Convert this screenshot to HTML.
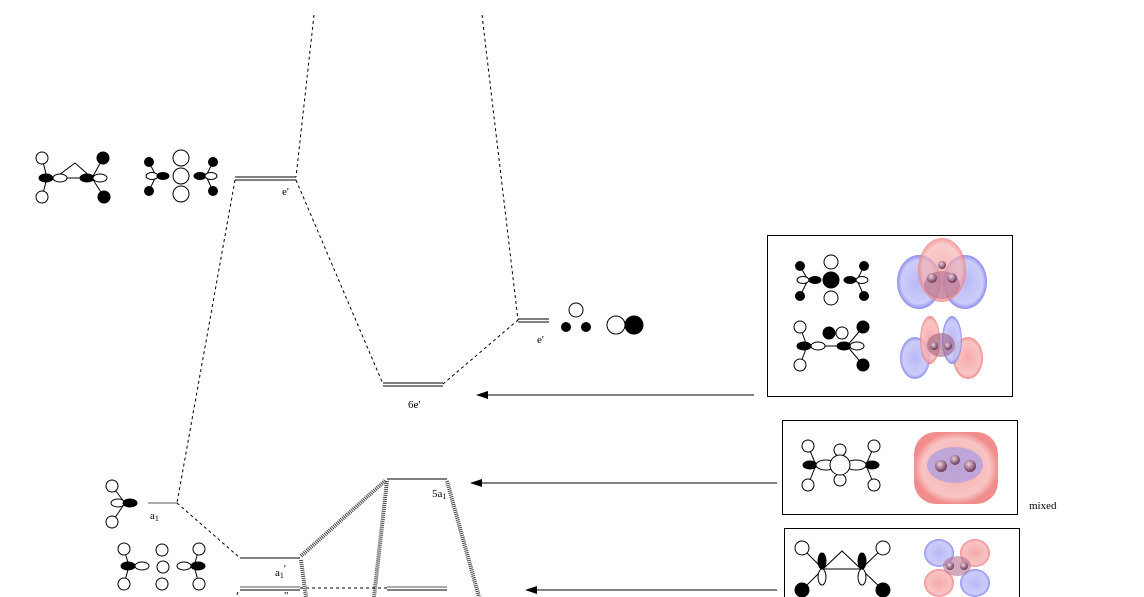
<!DOCTYPE html>
<html><head><meta charset="utf-8"><style>
html,body{margin:0;padding:0;background:#fff;width:1144px;height:597px;overflow:hidden}
svg{display:block}
text{font-family:"Liberation Serif",serif;font-size:11px;fill:#000}
</style></head><body>
<svg width="1144" height="597" viewBox="0 0 1144 597" xmlns="http://www.w3.org/2000/svg">
<defs>
<radialGradient id="rd" cx="50%" cy="50%" r="50%"><stop offset="0" stop-color="#f4a0a0" stop-opacity=".9"/><stop offset=".8" stop-color="#f7b5b5" stop-opacity=".8"/><stop offset="1" stop-color="#f08080" stop-opacity=".9"/></radialGradient>
<radialGradient id="bl" cx="50%" cy="50%" r="50%"><stop offset="0" stop-color="#b0b0f4" stop-opacity=".9"/><stop offset=".8" stop-color="#c0c0f8" stop-opacity=".8"/><stop offset="1" stop-color="#8080f0" stop-opacity=".9"/></radialGradient>
<radialGradient id="at" cx="40%" cy="35%" r="60%"><stop offset="0" stop-color="#f0d0e0"/><stop offset="1" stop-color="#704060"/></radialGradient>
</defs>
<g fill="none" stroke="#000" stroke-width="1">
<!-- dashed correlation lines -->
<g stroke-dasharray="3 3">
<line x1="314" y1="15" x2="296" y2="177"/>
<line x1="482" y1="15" x2="518" y2="320"/>
<line x1="235" y1="180" x2="177" y2="503"/>
<line x1="296" y1="180" x2="383" y2="384"/>
<line x1="443" y1="384" x2="518" y2="320"/>
<line x1="177" y1="503" x2="240" y2="558"/>
<line x1="300" y1="588" x2="387" y2="588"/>
<line x1="238" y1="592" x2="236" y2="597"/>
</g>
<!-- levels -->
<line x1="235" y1="177" x2="296" y2="177"/><line x1="235" y1="180" x2="296" y2="180"/>
<line x1="383" y1="383" x2="443" y2="383"/><line x1="383" y1="386" x2="443" y2="386"/>
<line x1="518" y1="319" x2="549" y2="319"/><line x1="518" y1="322" x2="549" y2="322"/>
<line x1="148" y1="503" x2="177" y2="503" stroke="#555"/>
<line x1="240" y1="558" x2="300" y2="558"/>
<line x1="240" y1="587" x2="300" y2="587" stroke="#555"/><line x1="240" y1="590" x2="300" y2="590"/>
<line x1="387" y1="479" x2="447" y2="479"/>
<line x1="387" y1="587" x2="447" y2="587" stroke="#555"/><line x1="387" y1="590" x2="447" y2="590"/>
<!-- hatched lines -->
<g stroke="#444" stroke-width="4" stroke-dasharray="1 1">
<line x1="301" y1="556" x2="386" y2="480"/>
<line x1="301" y1="560" x2="306" y2="597"/>
<line x1="387" y1="481" x2="374" y2="597"/>
<line x1="447" y1="481" x2="479" y2="597"/>
</g>
<!-- arrows -->
<line x1="754" y1="395" x2="484" y2="395"/>
<line x1="777" y1="483" x2="478" y2="483"/>
<line x1="777" y1="590" x2="533" y2="590"/>
</g>
<polygon points="476,395 488,391 488,399"/>
<polygon points="470,483 482,479 482,487"/>
<polygon points="525,590 537,586 537,594"/>
<!-- labels -->
<text x="282" y="195" fill="#003">e'</text>
<text x="537" y="343">e'</text>
<text x="408" y="408">6e'</text>
<text x="150" y="519">a<tspan font-size="8" dy="2">1</tspan></text>
<text x="275" y="576">a<tspan font-size="8" dy="2">1</tspan><tspan dy="-6">'</tspan></text>
<text x="284" y="599">"</text>
<text x="432" y="497">5a<tspan font-size="8" dy="2">1</tspan></text>
<text x="1029" y="509">mixed</text>
<!-- boxes -->
<g fill="none" stroke="#000">
<rect x="767.5" y="235.5" width="245" height="161"/>
<rect x="782.5" y="420.5" width="235" height="94"/>
<rect x="784.5" y="528.5" width="235" height="80"/>
</g>
<!-- top-left fragment orbitals -->
<g stroke="#000" fill="#fff">
<line x1="47" y1="178" x2="42" y2="158"/><line x1="47" y1="178" x2="42" y2="197"/>
<polyline points="55,178 75,163 92,178" fill="none"/><line x1="55" y1="178" x2="92" y2="178"/>
<circle cx="42" cy="158" r="6"/><circle cx="42" cy="197" r="6"/>
<ellipse cx="46" cy="178" rx="7" ry="4" fill="#000"/><ellipse cx="60" cy="178" rx="7" ry="4"/>
<line x1="92" y1="178" x2="103" y2="158"/><line x1="92" y1="178" x2="104" y2="197"/>
<ellipse cx="87" cy="178" rx="7" ry="4" fill="#000"/><ellipse cx="100" cy="178" rx="7" ry="4"/>
<circle cx="103" cy="158" r="6" fill="#000"/><circle cx="104" cy="197" r="6" fill="#000"/>
<!-- second -->
<line x1="156" y1="176" x2="149" y2="162"/><line x1="156" y1="176" x2="149" y2="191"/>
<ellipse cx="152" cy="176" rx="6" ry="3.5"/><ellipse cx="163" cy="176" rx="6" ry="3.5" fill="#000"/>
<circle cx="149" cy="162" r="4.5" fill="#000"/><circle cx="149" cy="191" r="4.5" fill="#000"/>
<circle cx="181" cy="158" r="8"/><circle cx="181" cy="176" r="8"/><circle cx="181" cy="194" r="8"/>
<line x1="206" y1="176" x2="213" y2="162"/><line x1="206" y1="176" x2="213" y2="191"/>
<ellipse cx="200" cy="176" rx="6" ry="3.5" fill="#000"/><ellipse cx="211" cy="176" rx="6" ry="3.5"/>
<circle cx="213" cy="162" r="4.5" fill="#000"/><circle cx="213" cy="191" r="4.5" fill="#000"/>
<!-- e' right -->
<circle cx="576" cy="310" r="7"/><circle cx="566" cy="327" r="4.5" fill="#000"/><circle cx="586" cy="327" r="4.5" fill="#000"/>
<circle cx="616" cy="325" r="9"/><circle cx="634" cy="325" r="9" fill="#000"/>
<!-- a1 left -->
<line x1="125" y1="503" x2="112" y2="486"/><line x1="125" y1="503" x2="112" y2="522"/>
<circle cx="112" cy="486" r="6"/><circle cx="112" cy="522" r="6"/>
<ellipse cx="118" cy="503" rx="7" ry="4"/><ellipse cx="130" cy="503" rx="7" ry="4" fill="#000"/>
<!-- a1' left -->
<line x1="129" y1="566" x2="124" y2="549"/><line x1="129" y1="566" x2="124" y2="584"/>
<circle cx="124" cy="549" r="6"/><circle cx="124" cy="584" r="6"/>
<ellipse cx="128" cy="566" rx="7" ry="4" fill="#000"/><ellipse cx="142" cy="566" rx="7" ry="4"/>
<circle cx="162" cy="550" r="6"/><circle cx="163" cy="567" r="6"/><circle cx="162" cy="584" r="6"/>
<line x1="194" y1="566" x2="199" y2="549"/><line x1="194" y1="566" x2="199" y2="584"/>
<circle cx="199" cy="549" r="6"/><circle cx="199" cy="584" r="6"/>
<ellipse cx="184" cy="566" rx="7" ry="4"/><ellipse cx="198" cy="566" rx="7" ry="4" fill="#000"/>
<!-- box1 row1 -->
<line x1="808" y1="280" x2="800" y2="266"/><line x1="808" y1="280" x2="800" y2="296"/>
<circle cx="800" cy="266" r="4.5" fill="#000"/><circle cx="800" cy="296" r="4.5" fill="#000"/>
<ellipse cx="803" cy="280" rx="6" ry="3.5"/><ellipse cx="815" cy="280" rx="6" ry="3.5" fill="#000"/>
<circle cx="831" cy="262" r="7"/><circle cx="831" cy="280" r="8" fill="#000"/><circle cx="831" cy="298" r="7"/>
<line x1="857" y1="280" x2="864" y2="266"/><line x1="857" y1="280" x2="864" y2="296"/>
<circle cx="864" cy="266" r="4.5" fill="#000"/><circle cx="864" cy="296" r="4.5" fill="#000"/>
<ellipse cx="850" cy="280" rx="6" ry="3.5" fill="#000"/><ellipse cx="862" cy="280" rx="6" ry="3.5"/>
<!-- box1 row2 -->
<line x1="807" y1="346" x2="800" y2="327"/><line x1="807" y1="346" x2="800" y2="365"/>
<line x1="807" y1="346" x2="845" y2="346"/>
<circle cx="800" cy="327" r="6"/><circle cx="800" cy="365" r="6"/>
<ellipse cx="804" cy="346" rx="7" ry="4" fill="#000"/><ellipse cx="818" cy="346" rx="7" ry="4"/>
<circle cx="829" cy="333" r="6" fill="#000"/><circle cx="842" cy="333" r="6"/>
<line x1="847" y1="346" x2="863" y2="327"/><line x1="847" y1="346" x2="863" y2="365"/>
<ellipse cx="844" cy="346" rx="7" ry="4" fill="#000"/><ellipse cx="857" cy="346" rx="7" ry="4"/>
<circle cx="863" cy="327" r="6" fill="#000"/><circle cx="863" cy="365" r="6" fill="#000"/>
<!-- box2 -->
<line x1="816" y1="465" x2="808" y2="446"/><line x1="816" y1="465" x2="808" y2="485"/>
<line x1="866" y1="465" x2="874" y2="446"/><line x1="866" y1="465" x2="874" y2="485"/>
<circle cx="808" cy="446" r="6"/><circle cx="808" cy="485" r="6"/><circle cx="874" cy="446" r="6"/><circle cx="874" cy="485" r="6"/>
<circle cx="840" cy="450" r="6"/><circle cx="840" cy="480" r="6"/>
<ellipse cx="810" cy="465" rx="7" ry="4" fill="#000"/><ellipse cx="872" cy="465" rx="7" ry="4" fill="#000"/>
<ellipse cx="826" cy="465" rx="10" ry="5"/><ellipse cx="856" cy="465" rx="10" ry="5"/>
<circle cx="840" cy="465" r="10"/>
<!-- box3 -->
<line x1="823" y1="569" x2="802" y2="548"/><line x1="823" y1="569" x2="802" y2="590"/>
<line x1="861" y1="569" x2="883" y2="548"/><line x1="861" y1="569" x2="883" y2="590"/>
<polyline points="823,569 842,551 861,569" fill="none"/><line x1="823" y1="569" x2="861" y2="569"/>
<circle cx="802" cy="548" r="7"/><circle cx="883" cy="548" r="7"/>
<circle cx="802" cy="590" r="7" fill="#000"/><circle cx="883" cy="590" r="7" fill="#000"/>
<ellipse cx="822" cy="561" rx="4" ry="8" fill="#000"/><ellipse cx="822" cy="577" rx="4" ry="8"/>
<ellipse cx="862" cy="561" rx="4" ry="8" fill="#000"/><ellipse cx="862" cy="577" rx="4" ry="8"/>
</g>
<!-- MO renders -->
<g stroke="none">
<ellipse cx="919" cy="282" rx="22" ry="27" fill="url(#bl)"/><ellipse cx="965" cy="282" rx="22" ry="27" fill="url(#bl)"/>
<ellipse cx="942" cy="270" rx="24" ry="32" fill="url(#rd)" opacity=".85"/>
<ellipse cx="942" cy="285" rx="18" ry="14" fill="#b07090" opacity=".6"/>
<circle cx="932" cy="278" r="5" fill="url(#at)"/><circle cx="952" cy="278" r="5" fill="url(#at)"/><circle cx="942" cy="265" r="4" fill="url(#at)"/>
<ellipse cx="915" cy="358" rx="15" ry="21" fill="url(#bl)"/><ellipse cx="968" cy="358" rx="15" ry="21" fill="url(#rd)"/>
<ellipse cx="930" cy="340" rx="10" ry="24" fill="url(#rd)"/><ellipse cx="952" cy="340" rx="10" ry="24" fill="url(#bl)"/>
<ellipse cx="941" cy="345" rx="14" ry="12" fill="#a06080" opacity=".6"/>
<circle cx="934" cy="346" r="4" fill="url(#at)"/><circle cx="948" cy="346" r="4" fill="url(#at)"/>
<rect x="914" y="432" width="84" height="72" rx="22" fill="url(#rd)"/>
<ellipse cx="955" cy="465" rx="28" ry="18" fill="#b0a0e0" opacity=".8"/>
<circle cx="941" cy="466" r="6" fill="url(#at)"/><circle cx="970" cy="466" r="6" fill="url(#at)"/><circle cx="955" cy="460" r="5" fill="url(#at)"/>
<ellipse cx="939" cy="553" rx="15" ry="14" fill="url(#bl)"/><ellipse cx="975" cy="553" rx="15" ry="14" fill="url(#rd)"/>
<ellipse cx="939" cy="583" rx="15" ry="14" fill="url(#rd)"/><ellipse cx="975" cy="583" rx="15" ry="14" fill="url(#bl)"/>
<ellipse cx="957" cy="566" rx="14" ry="10" fill="#b07090" opacity=".6"/>
<circle cx="950" cy="566" r="4" fill="url(#at)"/><circle cx="964" cy="566" r="4" fill="url(#at)"/>
</g>
</svg>
</body></html>
